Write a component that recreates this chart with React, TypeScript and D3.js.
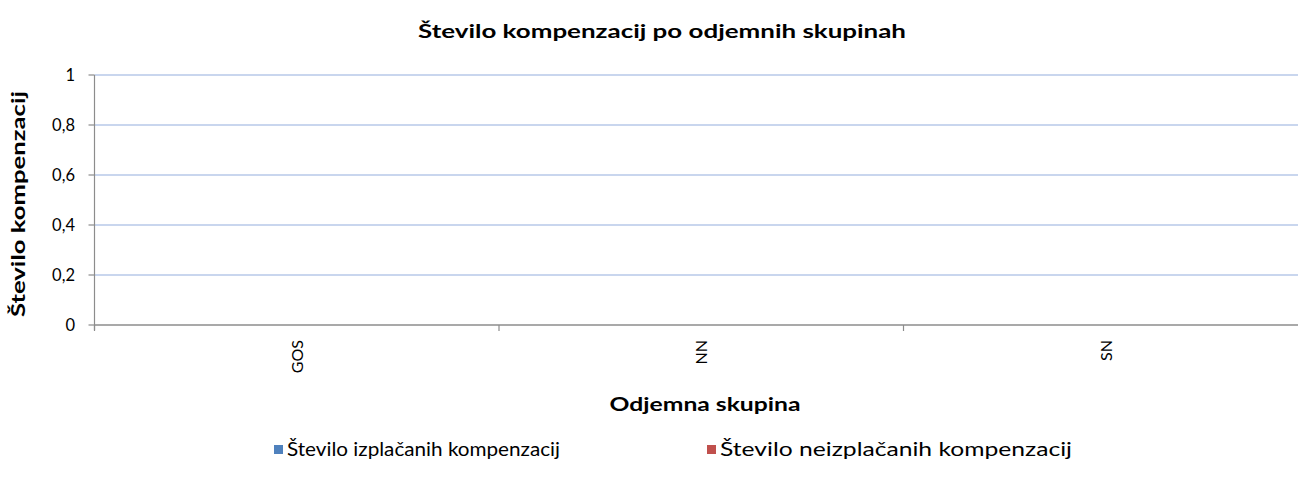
import React from "react";
import { scaleBand, scaleLinear, range } from "d3";

const categories = ["GOS", "NN", "SN"];
const seriesNames = ["Število izplačanih kompenzacij", "Število neizplačanih kompenzacij"];
const seriesColors = ["#4f81bd", "#c0504d"];
const paidValues = [0, 0, 0];
const unpaidValues = [0, 0, 0];
const yTicks = [0, 0.2, 0.4, 0.6, 0.8, 1];

const W = 1298;
const H = 488;
const font = "Lato, 'Open Sans', sans-serif";

export default function App() {
  // plot area
  const left = 94.5;
  const top = 75;
  const bottom = 325;
  const xScale = scaleBand().domain(categories).range([left, 1308]);
  const inner = scaleBand()
    .domain(range(seriesNames.length).map(String))
    .range([0, xScale.bandwidth()])
    .paddingOuter(0.75);
  const yScale = scaleLinear().domain([0, 1]).range([bottom, top]);
  const fmt = (v: number) => String(v).replace(".", ",");
  const series = [paidValues, unpaidValues];

  return (
    <svg
      width={W}
      height={H}
      style={{ position: "absolute", left: 0, top: 0, background: "#fff" }}
      fontFamily={font}
    >
      <text x={662} y={38} textAnchor="middle" fontWeight="bold" fontSize={19.5} textLength={488} lengthAdjust="spacingAndGlyphs">
        Število kompenzacij po odjemnih skupinah
      </text>

      {/* gridlines */}
      {yTicks.filter((t) => t > 0).map((t) => (
        <line key={t} x1={left} x2={W} y1={yScale(t)} y2={yScale(t)} stroke="#b7c9e8" strokeWidth={1.5} />
      ))}

      {/* bars (all zero) */}
      {series.map((vals, si) =>
        categories.map((c, i) => (
          <rect
            key={c + si}
            x={(xScale(c) as number) + (inner(String(si)) as number)}
            y={yScale(vals[i])}
            width={inner.bandwidth()}
            height={yScale(0) - yScale(vals[i])}
            fill={seriesColors[si]}
          />
        ))
      )}

      {/* y axis */}
      <line x1={left} x2={left} y1={top} y2={bottom + 5} stroke="#8c8c8c" strokeWidth={1.2} />
      {yTicks.map((t) => (
        <g key={t} transform={`translate(0, ${yScale(t)})`}>
          <line x1={left - 6} x2={left} stroke="#8c8c8c" strokeWidth={1.2} />
          <text x={75} y={6} textAnchor="end" fontSize={16.5} fill="#000">
            {fmt(t)}
          </text>
        </g>
      ))}
      <text
        transform={`translate(25, ${(top + bottom) / 2 + 4}) rotate(-90)`}
        textAnchor="middle"
        fontWeight="bold"
        fontSize={19.5}
        textLength={226}
        lengthAdjust="spacingAndGlyphs"
      >
        Število kompenzacij
      </text>

      {/* x axis */}
      <line x1={left} x2={W} y1={bottom} y2={bottom} stroke="#8c8c8c" strokeWidth={1.5} />
      {categories.map((c) => (
        <line key={c} x1={xScale(c)} x2={xScale(c)} y1={bottom} y2={bottom + 6} stroke="#8c8c8c" strokeWidth={1.2} />
      ))}
      {categories.map((c) => {
        const cx = (xScale(c) as number) + xScale.bandwidth() / 2;
        return (
          <text key={c} transform={`translate(${cx + 6}, 340) rotate(-90)`} textAnchor="end" fontSize={16}>
            {c}
          </text>
        );
      })}
      <text x={705} y={411} textAnchor="middle" fontWeight="bold" fontSize={19.5} textLength={191} lengthAdjust="spacingAndGlyphs">
        Odjemna skupina
      </text>

      {/* legend */}
      {seriesNames.map((n, i) => {
        const lx = i === 0 ? 274 : 707;
        const tl = i === 0 ? 273 : 352;
        return (
          <g key={n}>
            <rect x={lx} y={445} width={9} height={9} fill={seriesColors[i]} />
            <text x={lx + 13} y={456} fontSize={19.5} textLength={tl} lengthAdjust="spacingAndGlyphs">
              {n}
            </text>
          </g>
        );
      })}
    </svg>
  );
}
